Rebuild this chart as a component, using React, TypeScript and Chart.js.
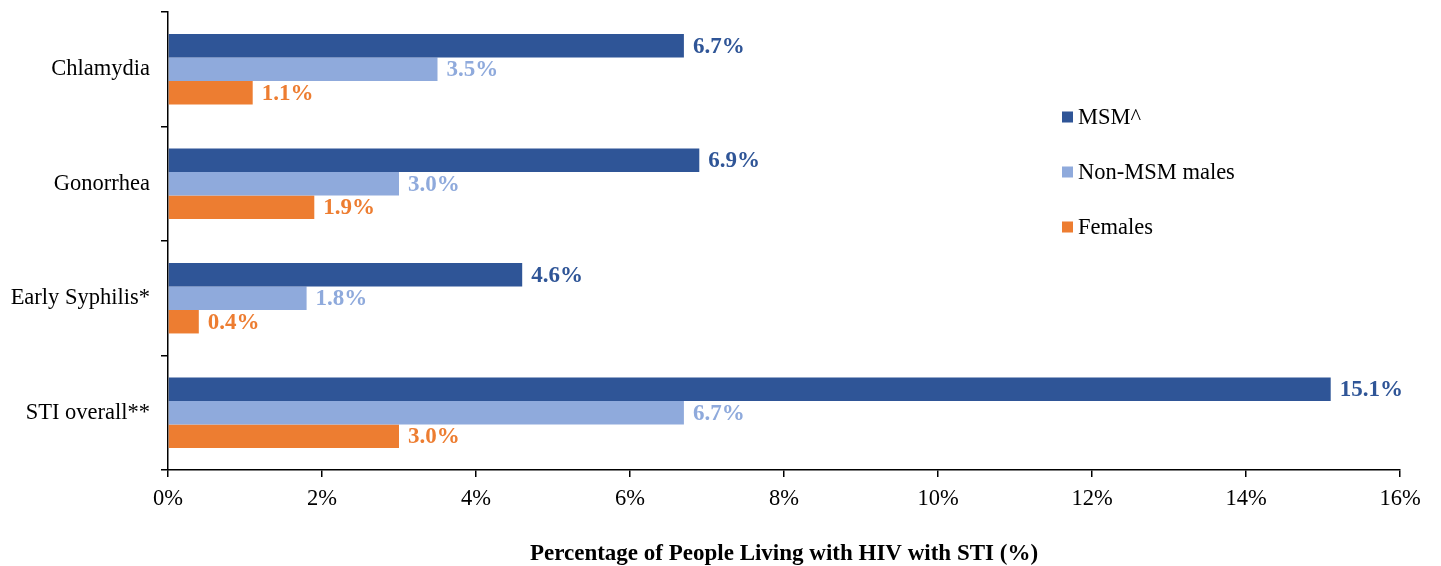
import React, { useEffect, useRef } from "react";
import { Chart, registerables } from "chart.js";

Chart.register(...registerables);

const categories = ["Chlamydia", "Gonorrhea", "Early Syphilis*", "STI overall**"];
const seriesNames = ["MSM^", "Non-MSM males", "Females"];
const msmValues = [6.7, 6.9, 4.6, 15.1];
const nonMsmValues = [3.5, 3.0, 1.8, 6.7];
const femaleValues = [1.1, 1.9, 0.4, 3.0];
const seriesColors = ["#2F5597", "#8FAADC", "#ED7D31"];
const xTicks = [0, 2, 4, 6, 8, 10, 12, 14, 16];
const xTitle = "Percentage of People Living with HIV with STI (%)";

const FONT = "'Liberation Serif', 'Times New Roman', serif";

const dataLabelPlugin = {
  id: "dataLabels",
  afterDatasetsDraw(chart: any) {
    const ctx = chart.ctx;
    ctx.save();
    ctx.font = `bold 23px ${FONT}`;
    ctx.textBaseline = "middle";
    ctx.textAlign = "left";
    chart.data.datasets.forEach((ds: any, i: number) => {
      const meta = chart.getDatasetMeta(i);
      ctx.fillStyle = ds.backgroundColor;
      meta.data.forEach((bar: any, j: number) => {
        const v = ds.data[j];
        ctx.fillText(v.toFixed(1) + "%", bar.x + 9, bar.y + 1);
      });
    });
    ctx.restore();
  },
};

const customLegendPlugin = {
  id: "customLegend",
  afterDraw(chart: any) {
    const ctx = chart.ctx;
    ctx.save();
    ctx.font = `22.5px ${FONT}`;
    ctx.textBaseline = "middle";
    ctx.textAlign = "left";
    const x0 = 1062;
    const y0 = 117;
    const step = 55;
    chart.data.datasets.forEach((ds: any, i: number) => {
      const y = y0 + i * step;
      ctx.fillStyle = ds.backgroundColor;
      ctx.fillRect(x0, y - 5.5, 11, 11);
      ctx.fillStyle = "#000";
      ctx.fillText(ds.label, x0 + 16, y + 1);
    });
    ctx.restore();
  },
};

export default function App() {
  const ref = useRef<HTMLCanvasElement | null>(null);

  useEffect(() => {
    document.body.style.margin = "0";
    const canvas = ref.current;
    if (!canvas) return;
    const chart = new Chart(canvas, {
      type: "bar",
      data: {
        labels: categories,
        datasets: [
          { label: seriesNames[0], data: msmValues, backgroundColor: seriesColors[0] },
          { label: seriesNames[1], data: nonMsmValues, backgroundColor: seriesColors[1] },
          { label: seriesNames[2], data: femaleValues, backgroundColor: seriesColors[2] },
        ],
      },
      options: {
        indexAxis: "y",
        responsive: false,
        animation: false,
        devicePixelRatio: 1,
        layout: { padding: { top: 12, right: 41, left: 0, bottom: 0 } },
        datasets: {
          bar: { categoryPercentage: 0.615, barPercentage: 1.0 },
        },
        plugins: {
          legend: { display: false },
          tooltip: { enabled: false },
        },
        scales: {
          x: {
            min: 0,
            max: 16,
            afterBuildTicks: (scale: any) => {
              scale.ticks = xTicks.map((v) => ({ value: v }));
            },
            ticks: {
              callback: (v: any) => v + "%",
              color: "#000",
              font: { family: FONT, size: 22.5 },
              padding: 9,
              maxRotation: 0,
            },
            grid: {
              drawOnChartArea: false,
              drawTicks: true,
              tickLength: 7,
              color: "#000",
              lineWidth: 1.5,
            },
            border: { display: true, color: "#000", width: 1.5 },
            title: {
              display: true,
              text: xTitle,
              color: "#000",
              font: { family: FONT, size: 23, weight: "bold" },
              padding: { top: 0, bottom: -2 },
            },
            afterFit: (scale: any) => {
              scale.height = 96;
            },
          },
          y: {
            ticks: {
              color: "#000",
              font: { family: FONT, size: 22.5 },
              padding: 11,
            },
            grid: {
              drawOnChartArea: false,
              drawTicks: true,
              tickLength: 7,
              color: "#000",
              lineWidth: 1.5,
            },
            border: { display: true, color: "#000", width: 1.5 },
            afterFit: (scale: any) => {
              scale.width = 168;
              scale.paddingTop = 0;
              scale.paddingBottom = 0;
            },
          },
        },
      },
      plugins: [dataLabelPlugin, customLegendPlugin],
    });
    return () => chart.destroy();
  }, []);

  return (
    <div style={{ width: 1441, height: 566 }}>
      <canvas ref={ref} width={1441} height={566} style={{ display: "block" }} />
    </div>
  );
}
